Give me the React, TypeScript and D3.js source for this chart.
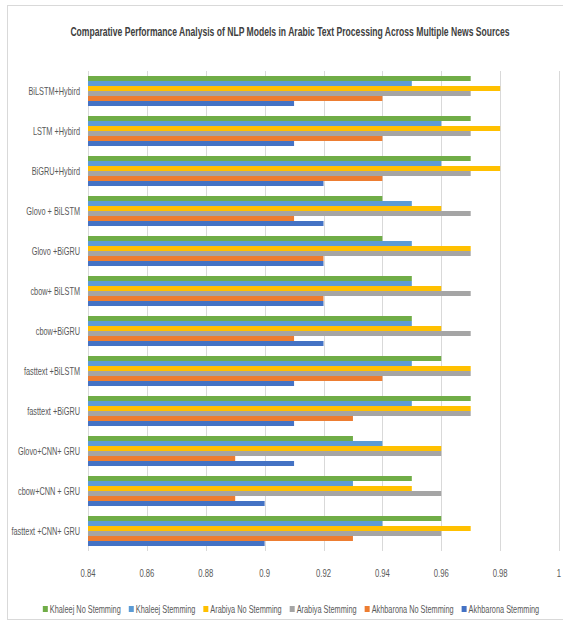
import React, { useEffect, useRef } from 'react';
import * as d3 from 'd3';

const categories = [
  'BiLSTM+Hybird',
  'LSTM +Hybird',
  'BiGRU+Hybird',
  'Glovo + BiLSTM',
  'Glovo +BiGRU',
  'cbow+ BiLSTM',
  'cbow+BiGRU',
  'fasttext +BiLSTM',
  'fasttext +BiGRU',
  'Glovo+CNN+ GRU',
  'cbow+CNN + GRU',
  'fasttext +CNN+ GRU',
];

const seriesNames = [
  'Khaleej No Stemming',
  'Khaleej Stemming',
  'Arabiya No Stemming',
  'Arabiya Stemming',
  'Akhbarona No Stemming',
  'Akhbarona Stemming',
];

const seriesColors = ['#70AD47', '#5B9BD5', '#FFC000', '#A5A5A5', '#ED7D31', '#4472C4'];

// values per series, in category order
const khaleejNoStem = [0.97, 0.97, 0.97, 0.94, 0.94, 0.95, 0.95, 0.96, 0.97, 0.93, 0.95, 0.96];
const khaleejStem = [0.95, 0.96, 0.96, 0.95, 0.95, 0.95, 0.95, 0.95, 0.95, 0.94, 0.93, 0.94];
const arabiyaNoStem = [0.98, 0.98, 0.98, 0.96, 0.97, 0.96, 0.96, 0.97, 0.97, 0.96, 0.95, 0.97];
const arabiyaStem = [0.97, 0.97, 0.97, 0.97, 0.97, 0.97, 0.97, 0.97, 0.97, 0.96, 0.96, 0.96];
const akhbaronaNoStem = [0.94, 0.94, 0.94, 0.91, 0.92, 0.92, 0.91, 0.94, 0.93, 0.89, 0.89, 0.93];
const akhbaronaStem = [0.91, 0.91, 0.92, 0.92, 0.92, 0.92, 0.92, 0.91, 0.91, 0.91, 0.9, 0.9];

const seriesValues = [khaleejNoStem, khaleejStem, arabiyaNoStem, arabiyaStem, akhbaronaNoStem, akhbaronaStem];

const xTicks = [0.84, 0.86, 0.88, 0.9, 0.92, 0.94, 0.96, 0.98, 1];

const FONT = "'Liberation Sans', Arial, sans-serif";
const SX = 0.7; // horizontal squeeze, the original uses a condensed face

const App: React.FC = () => {
  const svgRef = useRef<SVGSVGElement>(null);

  useEffect(() => {
    if (!svgRef.current) return;
    const svg = d3.select(svgRef.current);
    svg.selectAll('*').remove();

    const W = 563;
    const H = 624;
    const plot = { left: 88, right: 559, top: 71, bottom: 551 };

    svg.append('rect').attr('width', W).attr('height', H).attr('fill', '#fff');

    // chart frame
    svg.append('rect')
      .attr('x', 7.5).attr('y', 5.5)
      .attr('width', 620).attr('height', 614)
      .attr('fill', 'none')
      .attr('stroke', '#d9d9d9');

    const x = d3.scaleLinear().domain([0.84, 1]).range([plot.left, plot.right]);
    const y = d3.scaleBand<string>()
      .domain(categories)
      .range([plot.top, plot.bottom])
      .paddingInner(0.25)
      .paddingOuter(0.125);
    const ys = d3.scaleBand<number>()
      .domain(d3.range(seriesNames.length))
      .range([0, y.bandwidth()]);

    // gridlines
    svg.append('g')
      .selectAll('line')
      .data(xTicks)
      .join('line')
      .attr('x1', d => Math.round(x(d)) + 0.5)
      .attr('x2', d => Math.round(x(d)) + 0.5)
      .attr('y1', plot.top)
      .attr('y2', plot.bottom)
      .attr('stroke', '#d9d9d9')
      .attr('stroke-width', 1);

    // bars
    const groups = svg.append('g')
      .selectAll('g')
      .data(categories)
      .join('g')
      .attr('transform', d => `translate(0,${y(d)})`);

    groups.selectAll('rect')
      .data((_, ci) => seriesValues.map((vals, si) => ({ si, v: vals[ci] })))
      .join('rect')
      .attr('x', x(0.84))
      .attr('y', d => ys(d.si)!)
      .attr('width', d => x(d.v) - x(0.84))
      .attr('height', ys.bandwidth())
      .attr('fill', d => seriesColors[d.si]);

    // category labels
    svg.append('g')
      .selectAll('text')
      .data(categories)
      .join('text')
      .attr('x', 80 / SX)
      .attr('y', d => y(d)! + y.bandwidth() / 2)
      .attr('dy', '0.35em')
      .attr('transform', `scale(${SX},1)`)
      .attr('text-anchor', 'end')
      .style('font-family', FONT)
      .style('font-size', '10.5px')
      .style('fill', '#595959')
      .text(d => d);

    // x tick labels
    svg.append('g')
      .selectAll('text')
      .data(xTicks)
      .join('text')
      .attr('x', d => x(d) / SX)
      .attr('y', 577)
      .attr('transform', `scale(${SX},1)`)
      .attr('text-anchor', 'middle')
      .style('font-family', FONT)
      .style('font-size', '11px')
      .style('fill', '#595959')
      .text(d => d3.format('')(d));

    // title
    svg.append('text')
      .attr('x', 290 / 0.66)
      .attr('y', 36)
      .attr('transform', 'scale(0.66,1)')
      .attr('text-anchor', 'middle')
      .style('font-family', FONT)
      .style('font-size', '13px')
      .style('font-weight', 'bold')
      .style('fill', '#404040')
      .text('Comparative Performance Analysis of NLP Models in Arabic Text Processing Across Multiple News Sources');

    // legend
    const legend = svg.append('g');
    let lx = 0;
    seriesNames.forEach((name, i) => {
      const item = legend.append('g').attr('transform', `translate(${lx},0)`);
      item.append('rect')
        .attr('x', 0).attr('y', -3)
        .attr('width', 5).attr('height', 6)
        .attr('fill', seriesColors[i]);
      const t = item.append('text')
        .attr('x', 7 / SX)
        .attr('y', 0)
        .attr('dy', '0.35em')
        .attr('transform', `scale(${SX},1)`)
        .style('font-family', FONT)
        .style('font-size', '10.5px')
        .style('fill', '#595959')
        .text(name);
      const w = (t.node() as SVGTextElement).getComputedTextLength() * SX;
      lx += 7 + w + 8;
    });
    const total = lx - 8;
    legend.attr('transform', `translate(${291 - total / 2},609)`);
  }, []);

  return (
    <div style={{ position: 'absolute', left: 0, top: 0 }}>
      <svg ref={svgRef} width={563} height={624} style={{ display: 'block' }} />
    </div>
  );
};

export default App;
